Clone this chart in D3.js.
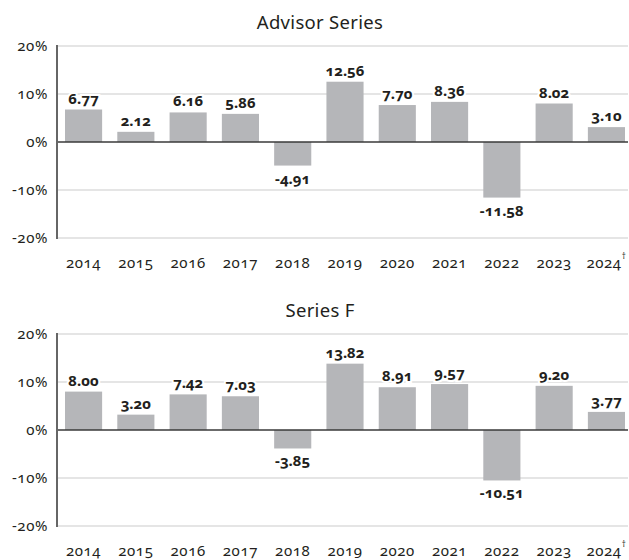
<!DOCTYPE html>
<html>
<head>
<meta charset="utf-8">
<script src="https://cdn.jsdelivr.net/npm/d3@7"></script>
<style>
  body { margin: 0; background: #fff; }
  svg text { font-family: "Noto Sans", "Open Sans", sans-serif; font-variant-numeric: oldstyle-nums; fill: #231f20; }
</style>
</head>
<body>
<svg id="chart" width="629" height="560"></svg>
<script>
const years = ['2014', '2015', '2016', '2017', '2018', '2019', '2020', '2021', '2022', '2023', '2024']
const advisorValues = [6.77, 2.12, 6.16, 5.86, -4.91, 12.56, 7.70, 8.36, -11.58, 8.02, 3.10]
const seriesFValues = [8.00, 3.20, 7.42, 7.03, -3.85, 13.82, 8.91, 9.57, -10.51, 9.20, 3.77]
const yTicks = [-20, -10, 0, 10, 20]
const panelTitles = ['Advisor Series', 'Series F']

const svg = d3.select('#chart')

let x = d3.scaleBand()
  .domain(years)
  .range([61.5, 628.5])
  .paddingInner(0.29)
  .paddingOuter(0.067)

function drawPanel(title, values, top) {
  let g = svg.append('g').attr('transform', `translate(0,${top})`)
  let y = d3.scaleLinear().domain([-20, 20]).range([238, 46])

  g.append('text')
    .attr('x', 320)
    .attr('y', 29)
    .attr('text-anchor', 'middle')
    .attr('font-size', 18.5)
    .attr('letter-spacing', 0.3)
    .text(title)

  // gridlines
  g.append('g')
    .selectAll('line')
    .data(yTicks.filter(t => t !== 0))
    .enter().append('line')
    .attr('x1', 57).attr('x2', 628)
    .attr('y1', t => y(t)).attr('y2', t => y(t))
    .attr('stroke', '#dcdcdc')
    .attr('stroke-width', 1.5)

  // y labels
  g.append('g')
    .selectAll('text')
    .data(yTicks)
    .enter().append('text')
    .attr('x', 48)
    .attr('y', t => y(t) + 5)
    .attr('text-anchor', 'end')
    .attr('font-size', 15)
    .attr('letter-spacing', 0.6)
    .text(t => t + '%')

  g.append('g')
    .selectAll('rect')
    .data(values)
    .enter().append('rect')
    .attr('x', (d, i) => x(years[i]))
    .attr('width', x.bandwidth())
    .attr('y', d => y(Math.max(0, d)))
    .attr('height', d => Math.abs(y(d) - y(0)))
    .attr('fill', '#b5b6b9')

  // zero line and left axis
  g.append('line')
    .attr('x1', 57).attr('x2', 628)
    .attr('y1', y(0)).attr('y2', y(0))
    .attr('stroke', '#3a3a3a')
    .attr('stroke-width', 1.5)
  g.append('line')
    .attr('x1', 57).attr('x2', 57)
    .attr('y1', y(20) - 1).attr('y2', y(-20) + 1)
    .attr('stroke', '#666')
    .attr('stroke-width', 2)

  // value labels, white halo knocks out the gridline
  g.append('g')
    .selectAll('text')
    .data(values)
    .enter().append('text')
    .attr('x', (d, i) => x(years[i]) + x.bandwidth() / 2)
    .attr('y', d => d >= 0 ? y(d) - 6 : y(d) + 18)
    .attr('text-anchor', 'middle')
    .attr('font-size', 15)
    .attr('font-weight', 'bold')
    .attr('stroke', '#fff')
    .attr('stroke-width', 4)
    .attr('paint-order', 'stroke')
    .text(d => d.toFixed(2))

  // x labels
  let xl = g.append('g')
    .selectAll('text')
    .data(years)
    .enter().append('text')
    .attr('x', d => x(d) + x.bandwidth() / 2)
    .attr('y', 268)
    .attr('text-anchor', 'middle')
    .attr('font-size', 15)
    .attr('letter-spacing', 0.6)
  xl.text(d => d)
  xl.filter(d => d === '2024')
    .append('tspan')
    .attr('dy', -9)
    .attr('font-size', 8)
    .text('†')
}

drawPanel(panelTitles[0], advisorValues, 0)
drawPanel(panelTitles[1], seriesFValues, 288)
</script>
</body>
</html>
